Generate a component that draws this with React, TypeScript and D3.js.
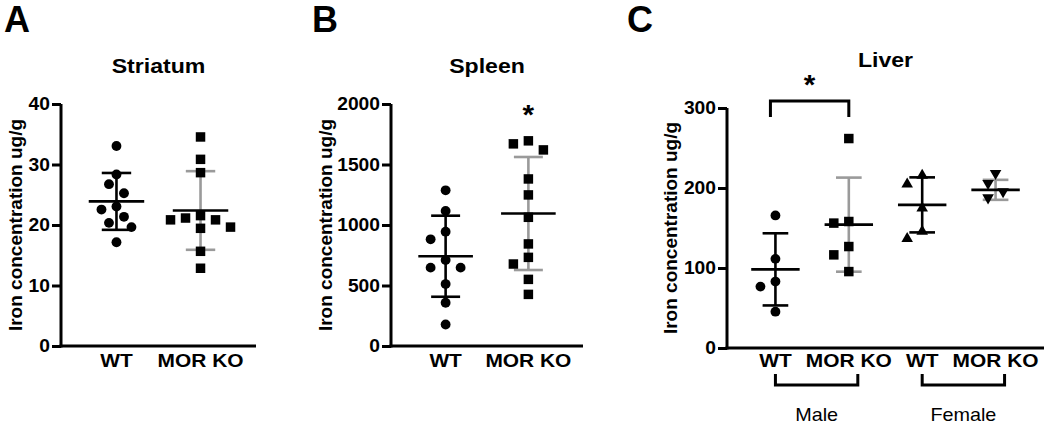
import React, { useEffect, useRef } from "react";
import * as d3 from "d3";

const font = "'Liberation Sans', Arial, Helvetica, sans-serif";
const SX = 1.1; // reference lettering is a little wider than Arial

// A - Striatum
const striatumGroups = ["WT", "MOR KO"];
const striatumWT = [33.3, 28.6, 27.0, 25.5, 23.3, 22.8, 21.6, 20.6, 19.9, 17.4];
const striatumKO = [34.8, 31.1, 28.9, 21.8, 21.4, 21.1, 21.1, 19.9, 19.7, 15.9, 13.1];
const striatumMean = [23.9, 22.4];
const striatumSD = [4.7, 6.5];
const striatumTicks = [0, 10, 20, 30, 40];

// B - Spleen
const spleenGroups = ["WT", "MOR KO"];
const spleenWT = [1299, 1129, 957, 894, 723, 660, 660, 524, 370, 190];
const spleenKO = [1708, 1683, 1633, 1393, 1261, 1076, 856, 745, 690, 563, 439];
const spleenMean = [742, 1095];
const spleenSD = [335, 467];
const spleenTicks = [0, 500, 1000, 1500, 2000];

// C - Liver
const liverGroups = ["Male WT", "Male MOR KO", "Female WT", "Female MOR KO"];
const liverLabels = ["WT", "MOR KO", "WT", "MOR KO"];
const liverMaleWT = [167.6, 113.3, 84.9, 78.6, 47.3];
const liverMaleKO = [263.7, 160, 158, 128.7, 118.3, 97.4];
const liverFemaleWT = [217.7, 206.8, 176.8, 147.5, 138.4];
const liverFemaleKO = [216.5, 204, 193.6, 186];
const liverMean = [98.3, 154.2, 178.9, 197.7];
const liverSD = [45.1, 58.8, 34.4, 12.5];
const liverTicks = [0, 100, 200, 300];
const sexLabels = ["Male", "Female"];

const GRAY = "#9a9a9a";

// simple dodge so points with close values sit side by side
function dodge(ys: number[], dist: number, step: number) {
  const placed: [number, number][] = [];
  return ys.map((yy) => {
    for (let k = 0; k < 30; k++) {
      const off = k === 0 ? 0 : (k % 2 === 1 ? -1 : 1) * Math.ceil(k / 2) * step;
      if (placed.every((p) => Math.hypot(p[0] - off, p[1] - yy) >= dist)) {
        placed.push([off, yy]);
        return off;
      }
    }
    return 0;
  });
}

const symbols: Record<string, { type: d3.SymbolType; size: number; rot: number }> = {
  circle: { type: d3.symbolCircle, size: 76, rot: 0 },
  square: { type: d3.symbolSquare, size: 90, rot: 0 },
  up: { type: d3.symbolTriangle, size: 58, rot: 0 },
  down: { type: d3.symbolTriangle, size: 58, rot: 180 },
};

function label(sel: any, x: number, y: number, txt: string, size: number, bold = true, anchor = "middle") {
  return sel
    .append("text")
    .attr("transform", `translate(${x},${y}) scale(${SX},1)`)
    .attr("text-anchor", anchor)
    .attr("font-family", font)
    .attr("font-size", size)
    .attr("font-weight", bold ? "bold" : "normal")
    .attr("fill", "#000")
    .text(txt);
}

function drawPanel(svg: any, cfg: any) {
  const { left, width, top, bottom, domainMax, ticks, groups, labels, series, means, sds, shapes, barColors, labelOffset, title, titleY, letter, letterX } = cfg;

  const y = d3.scaleLinear().domain([0, domainMax]).range([bottom, top]);
  const x = d3.scalePoint<string>().domain(groups).range([left, left + width]).padding(0.66);
  const step = x.step();

  const g = svg.append("g");

  // y axis
  const yAxis = g
    .append("g")
    .attr("transform", `translate(${left},0)`)
    .call(d3.axisLeft(y).tickValues(ticks).tickFormat(d3.format("d")).tickSize(9).tickSizeOuter(0).tickPadding(2));
  yAxis.select(".domain").attr("stroke", "#000").attr("stroke-width", 3).attr("d", `M0,${top}V${bottom + 1.5}`);
  yAxis.selectAll(".tick line").attr("stroke", "#000").attr("stroke-width", 3);
  yAxis
    .selectAll(".tick text")
    .attr("x", -11 / SX)
    .attr("transform", `scale(${SX},1)`)
    .attr("font-family", font)
    .attr("font-size", 17.5)
    .attr("font-weight", "bold")
    .attr("fill", "#000");

  // x axis line
  g.append("line")
    .attr("x1", left - 1.5)
    .attr("x2", left + width)
    .attr("y1", bottom)
    .attr("y2", bottom)
    .attr("stroke", "#000")
    .attr("stroke-width", 3);

  // category labels
  groups.forEach((grp: string, i: number) => label(g, x(grp) as number, 367, labels[i], 19));

  // y label
  g.append("text")
    .attr("transform", `translate(${left - labelOffset},${(top + bottom) / 2}) rotate(-90)`)
    .attr("text-anchor", "middle")
    .attr("dominant-baseline", "central")
    .attr("font-family", font)
    .attr("font-size", 19)
    .attr("font-weight", "bold")
    .text("Iron concentration ug/g");

  // title + panel letter
  label(g, left + width / 2, titleY, title, 21);
  g.append("text")
    .attr("x", letterX)
    .attr("y", 32)
    .attr("font-family", font)
    .attr("font-size", 36)
    .attr("font-weight", "bold")
    .text(letter);

  groups.forEach((grp: string, i: number) => {
    const cx = x(grp) as number;
    const meanW = step * 0.33;
    const capW = step * 0.175;
    const hi = y(means[i] + sds[i]);
    const lo = y(means[i] - sds[i]);
    const col = barColors[i];
    const eg = g.append("g").attr("stroke-width", 2.6);
    eg.append("line").attr("x1", cx).attr("x2", cx).attr("y1", hi).attr("y2", lo).attr("stroke", col);
    eg.append("line").attr("x1", cx - capW).attr("x2", cx + capW).attr("y1", hi).attr("y2", hi).attr("stroke", col);
    eg.append("line").attr("x1", cx - capW).attr("x2", cx + capW).attr("y1", lo).attr("y2", lo).attr("stroke", col);

    const sym = symbols[shapes[i]];
    const ys = series[i].map((v: number) => y(v));
    const offs = dodge(ys, 12, 7.5);
    g.append("g")
      .selectAll("path")
      .data(series[i])
      .join("path")
      .attr("d", d3.symbol(sym.type, sym.size)())
      .attr("transform", (d: number, j: number) => `translate(${cx + offs[j]},${ys[j] + (sym.rot ? -1.5 : 1.5)}) rotate(${sym.rot})`)
      .attr("fill", "#000");

    eg.append("line").attr("x1", cx - meanW).attr("x2", cx + meanW).attr("y1", y(means[i])).attr("y2", y(means[i])).attr("stroke", "#000");
  });

  return { x, y };
}

const App = () => {
  const ref = useRef<SVGSVGElement>(null);

  useEffect(() => {
    const svg = d3.select(ref.current);
    svg.selectAll("*").remove();

    drawPanel(svg, {
      left: 61, width: 195, top: 104, bottom: 346, domainMax: 40, ticks: striatumTicks,
      groups: striatumGroups, labels: striatumGroups, series: [striatumWT, striatumKO],
      means: striatumMean, sds: striatumSD, shapes: ["circle", "square"], barColors: ["#000", GRAY],
      labelOffset: 46, title: "Striatum", titleY: 73, letter: "A", letterX: 4,
    });

    const b = drawPanel(svg, {
      left: 391, width: 192, top: 104, bottom: 346, domainMax: 2000, ticks: spleenTicks,
      groups: spleenGroups, labels: spleenGroups, series: [spleenWT, spleenKO],
      means: spleenMean, sds: spleenSD, shapes: ["circle", "square"], barColors: ["#000", GRAY],
      labelOffset: 66, title: "Spleen", titleY: 73, letter: "B", letterX: 312,
    });
    label(svg, b.x("MOR KO") as number, 124, "*", 27);

    const c = drawPanel(svg, {
      left: 727, width: 317, top: 108, bottom: 348, domainMax: 300, ticks: liverTicks,
      groups: liverGroups, labels: liverLabels, series: [liverMaleWT, liverMaleKO, liverFemaleWT, liverFemaleKO],
      means: liverMean, sds: liverSD, shapes: ["circle", "square", "up", "down"], barColors: ["#000", GRAY, "#000", GRAY],
      labelOffset: 57, title: "Liver", titleY: 67, letter: "C", letterX: 627,
    });

    // significance bracket
    const sx1 = (c.x("Male WT") as number) - 5;
    const sx2 = c.x("Male MOR KO") as number;
    svg.append("path")
      .attr("d", `M${sx1},117V101H${sx2}V117`)
      .attr("fill", "none")
      .attr("stroke", "#000")
      .attr("stroke-width", 3);
    label(svg, (sx1 + sx2) / 2, 94, "*", 27);

    // sex brackets under the axis
    const pairs = [["Male WT", "Male MOR KO"], ["Female WT", "Female MOR KO"]];
    pairs.forEach((p, i) => {
      const x1 = c.x(p[0]) as number;
      const x2 = (c.x(p[1]) as number) + 9;
      svg.append("path")
        .attr("d", `M${x1},374V385H${x2}V374`)
        .attr("fill", "none")
        .attr("stroke", "#000")
        .attr("stroke-width", 3);
      label(svg, (x1 + x2) / 2, 421, sexLabels[i], 18, false);
    });
  }, []);

  return <svg ref={ref} width={1050} height={425} style={{ position: "absolute", left: 0, top: 0, background: "#fff" }} />;
};

export default App;
